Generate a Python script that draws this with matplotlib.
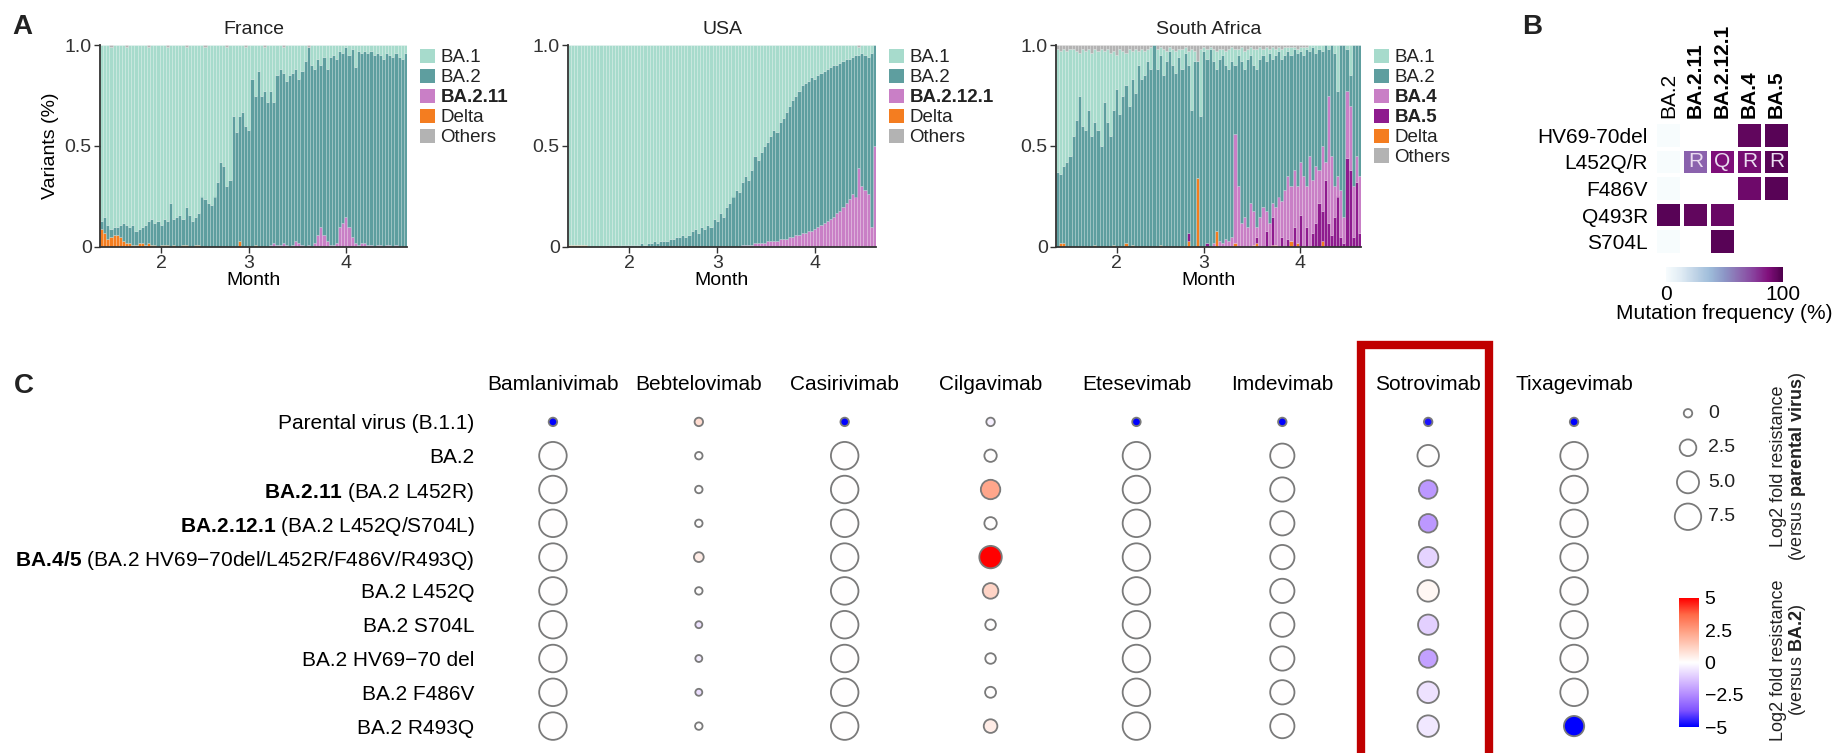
import numpy as np
import pandas as pd
import matplotlib
matplotlib.use("Agg")
import matplotlib.pyplot as plt
import matplotlib.dates as mdates
from matplotlib.patches import Patch, Rectangle
from matplotlib.colors import LinearSegmentedColormap

plt.rcParams['font.family'] = ['Liberation Sans', 'DejaVu Sans']
plt.rcParams['mathtext.fontset'] = 'custom'
plt.rcParams['mathtext.rm'] = 'Liberation Sans'
plt.rcParams['mathtext.bf'] = 'Liberation Sans:bold'
plt.rcParams['text.color'] = '#222222'

# ---------------- data: panel A (daily variant share) ----------------
days = pd.date_range("2022-01-13", "2022-04-20")

fr_ba1 = [0.87,0.85,0.89,0.90,0.90,0.90,0.89,0.88,0.88,0.90,
          0.89,0.92,0.91,0.90,0.89,0.86,0.86,0.88,0.87,0.89,
          0.86,0.86,0.78,0.86,0.85,0.84,0.86,0.79,0.84,0.87,
          0.85,0.83,0.75,0.75,0.78,0.79,0.75,0.68,0.58,0.60,
          0.69,0.67,0.35,0.43,0.35,0.33,0.39,0.42,0.17,0.25,
          0.13,0.25,0.22,0.28,0.23,0.28,0.15,0.12,0.13,0.18,
          0.15,0.14,0.12,0.17,0.13,0.08,0.00,0.10,0.12,0.07,
          0.10,0.06,0.12,0.06,0.05,0.07,0.03,0.04,0.01,0.05,
          0.02,0.11,0.03,0.04,0.03,0.04,0.03,0.05,0.04,0.05,
          0.07,0.04,0.05,0.06,0.04,0.06,0.07,0.04]
fr_ba2 = [0.04,0.08,0.07,0.04,0.04,0.04,0.06,0.09,0.09,0.08,
          0.10,0.07,0.07,0.08,0.10,0.11,0.13,0.11,0.13,0.10,
          0.13,0.12,0.22,0.13,0.15,0.16,0.13,0.19,0.16,0.13,
          0.14,0.16,0.25,0.24,0.22,0.21,0.25,0.32,0.42,0.40,
          0.30,0.33,0.65,0.57,0.62,0.67,0.60,0.58,0.83,0.74,
          0.87,0.75,0.77,0.72,0.76,0.70,0.84,0.87,0.84,0.81,
          0.85,0.85,0.85,0.81,0.86,0.92,0.98,0.90,0.86,0.87,
          0.80,0.88,0.85,0.93,0.94,0.91,0.87,0.84,0.84,0.85,
          0.93,0.87,0.96,0.94,0.95,0.95,0.96,0.95,0.95,0.94,
          0.93,0.95,0.94,0.94,0.95,0.94,0.93,0.96]
fr_ba211 = [0,0,0,0,0,0,0,0,0,0,
            0,0,0,0,0,0,0,0,0,0,
            0,0,0,0,0,0,0,0,0,0,
            0,0,0,0,0,0,0,0,0,0,
            0,0,0,0,0,0,0,0,0,0,
            0,0,0,0,0.01,0.02,0.01,0.01,0.02,0.01,
            0,0.01,0.03,0.02,0.01,0,0.01,0,0.02,0.06,
            0.10,0.06,0.03,0.01,0.01,0.02,0.10,0.12,0.15,0.10,
            0.05,0.02,0.01,0.02,0.02,0.01,0.01,0,0.01,0.01,
            0,0.01,0.01,0,0.01,0,0,0]
fr_delta = [0.09,0.07,0.04,0.05,0.06,0.06,0.05,0.03,0.02,0.02,
            0.01,0.01,0.02,0.02,0.01,0.02,0.01,0.01,0,0.01,
            0.01,0.01,0,0.01,0,0,0.01,0.01,0,0,
            0.01,0.01,0,0,0,0,0,0,0,0,
            0,0,0,0,0.03,0,0,0,0,0.01,
            0,0,0,0,0,0,0,0,0,0,
            0,0,0,0,0,0,0,0,0,0,
            0,0,0,0,0,0,0,0,0,0,
            0,0,0,0,0,0,0,0,0,0,
            0,0,0,0,0,0,0,0]
fr_others = [0,0,0,0.01,0,0,0,0,0.01,0,
             0,0,0,0,0,0.01,0,0,0,0,
             0,0.01,0,0,0,0,0,0.01,0,0,
             0,0,0,0.01,0,0,0,0,0,0,
             0.01,0,0,0,0,0,0.01,0,0,0,
             0,0,0.01,0,0,0,0,0,0.01,0,
             0,0,0,0,0,0,0.01,0,0,0,
             0,0,0,0,0,0,0,0,0,0,
             0,0,0,0,0,0,0,0,0,0,
             0,0,0,0,0,0,0,0]

usa_ba1 = [0.99,0.99,0.99,0.99,0.99,0.99,1.00,1.00,1.00,1.00,
           1.00,1.00,0.99,1.00,0.99,0.99,1.00,0.99,0.99,0.99,
           0.99,0.99,0.99,0.98,0.99,0.98,0.98,0.97,0.98,0.97,
           0.97,0.97,0.96,0.96,0.95,0.95,0.94,0.95,0.94,0.92,
           0.91,0.93,0.90,0.91,0.89,0.90,0.86,0.87,0.83,0.85,
           0.80,0.78,0.75,0.72,0.73,0.68,0.65,0.67,0.62,0.55,
           0.57,0.53,0.50,0.48,0.45,0.42,0.43,0.38,0.36,0.33,
           0.30,0.27,0.25,0.23,0.20,0.19,0.18,0.16,0.17,0.15,
           0.14,0.13,0.12,0.11,0.10,0.10,0.09,0.08,0.07,0.07,
           0.06,0.05,0.04,0.04,0.05,0.06,0.04,0.00]
usa_ba2 = [0,0,0,0,0,0,0,0,0,0,
           0,0,0.01,0,0.01,0.01,0,0.01,0.01,0.01,
           0.01,0.01,0.01,0.02,0.01,0.02,0.02,0.03,0.02,0.03,
           0.03,0.03,0.04,0.04,0.05,0.05,0.06,0.05,0.06,0.08,
           0.09,0.07,0.10,0.09,0.11,0.10,0.14,0.13,0.17,0.15,
           0.20,0.22,0.25,0.28,0.27,0.31,0.34,0.32,0.37,0.43,
           0.41,0.45,0.48,0.49,0.52,0.55,0.54,0.58,0.60,0.63,
           0.65,0.68,0.69,0.71,0.73,0.74,0.74,0.76,0.74,0.75,
           0.75,0.75,0.75,0.75,0.75,0.73,0.73,0.72,0.71,0.69,
           0.68,0.70,0.56,0.66,0.67,0.68,0.86,0.50]
usa_ba2121 = [0,0,0,0,0,0,0,0,0,0,
              0,0,0,0,0,0,0,0,0,0,
              0,0,0,0,0,0,0,0,0,0,
              0,0,0,0,0,0,0,0,0,0,
              0,0,0,0,0,0,0,0,0,0,
              0,0,0,0,0,0.01,0.01,0.01,0.01,0.02,
              0.02,0.02,0.02,0.03,0.03,0.03,0.03,0.04,0.04,0.04,
              0.05,0.05,0.06,0.06,0.07,0.07,0.08,0.08,0.09,0.10,
              0.11,0.12,0.13,0.14,0.15,0.17,0.18,0.20,0.22,0.24,
              0.26,0.25,0.39,0.30,0.28,0.26,0.10,0.50]
usa_delta = [0.01,0.01,0.01,0.01,0.01,0.01,0,0,0,0,
             0,0,0,0,0,0,0,0,0,0,
             0,0,0,0,0,0,0,0,0,0,
             0,0,0,0,0,0,0,0,0,0,
             0,0,0,0,0,0,0,0,0,0,
             0,0,0,0,0,0,0,0,0,0,
             0,0,0,0,0,0,0,0,0,0,
             0,0,0,0,0,0,0,0,0,0,
             0,0,0,0,0,0,0,0,0,0,
             0,0,0,0,0,0,0,0]
usa_others = [0,0,0,0,0,0,0,0,0,0,
              0,0,0,0,0,0,0,0,0,0,
              0,0,0,0,0,0,0,0,0,0,
              0,0,0,0,0,0,0,0,0,0,
              0,0,0,0,0,0,0,0,0,0,
              0,0,0,0,0,0,0,0,0,0,
              0,0,0,0,0,0,0,0,0,0,
              0,0,0,0,0,0,0,0,0,0,
              0,0,0,0,0,0,0,0,0,0,
              0,0,0.01,0,0,0,0,0]

sa_ba1 = [0.61,0.61,0.58,0.55,0.53,0.43,0.34,0.21,0.38,0.39,
          0.30,0.41,0.36,0.39,0.48,0.25,0.36,0.41,0.29,0.17,
          0.32,0.22,0.16,0.28,0.14,0.22,0.07,0.15,0.12,0.06,
          0.11,0.00,0.10,0.04,0.13,0.05,0.02,0.08,0.11,0.04,
          0.10,0.03,0.07,0.30,0.05,0.00,0.33,0.02,0.05,0.01,
          0.06,0.09,0.05,0.03,0.07,0.10,0.07,0.08,0.03,0.07,
          0.09,0.05,0.04,0.08,0.10,0.06,0.03,0.07,0.02,0.06,
          0.03,0.02,0.05,0.04,0.02,0.04,0.01,0.02,0.02,0.04,
          0.01,0.03,0.01,0.04,0.02,0.03,0.00,0.02,0.00,0.04,
          0.23,0.00,0.00,0.02,0.15,0.00,0.00,0.00]
sa_ba2 = [0.37,0.34,0.38,0.42,0.45,0.55,0.63,0.75,0.60,0.58,
          0.68,0.55,0.61,0.58,0.50,0.72,0.62,0.55,0.67,0.78,
          0.66,0.75,0.78,0.70,0.82,0.76,0.90,0.83,0.85,0.92,
          0.88,1.00,0.88,0.94,0.85,0.92,0.97,0.90,0.86,0.94,
          0.88,0.96,0.83,0.68,0.92,0.58,0.65,0.97,0.91,0.98,
          0.90,0.80,0.90,0.93,0.86,0.85,0.87,0.34,0.65,0.80,
          0.73,0.83,0.73,0.72,0.78,0.78,0.75,0.74,0.84,0.71,
          0.75,0.72,0.70,0.67,0.62,0.65,0.60,0.66,0.55,0.60,
          0.68,0.52,0.66,0.56,0.60,0.47,0.58,0.23,0.55,0.66,
          0.42,0.72,0.85,0.21,0.15,0.70,0.55,0.65]
sa_ba4 = [0,0,0,0,0,0,0,0,0,0,
          0,0,0,0,0,0,0,0,0,0,
          0,0,0,0,0,0,0,0,0,0,
          0,0,0,0,0,0,0,0,0,0,
          0,0,0,0,0,0,0,0,0,0,
          0.02,0,0.03,0.02,0.04,0.03,0.05,0.54,0.30,0.12,
          0.15,0.10,0.22,0.17,0.05,0.15,0.20,0.10,0.12,0.07,
          0.19,0.25,0.18,0.28,0.31,0.27,0.28,0.28,0.26,0.35,
          0.20,0.45,0.26,0.28,0.16,0.32,0.09,0.63,0.39,0.15,
          0.10,0.23,0.13,0.33,0.32,0.25,0.13,0.28]
sa_ba5 = [0,0,0,0,0,0,0,0,0,0,
          0,0,0,0,0,0,0,0,0,0,
          0,0,0,0,0,0,0,0,0,0,
          0,0,0,0,0,0,0,0,0,0,
          0,0,0.04,0,0,0,0,0,0.02,0,
          0,0,0,0,0,0,0,0,0,0,
          0,0,0,0,0.03,0,0,0.08,0,0.14,
          0,0,0.05,0,0.04,0,0.10,0,0.16,0,
          0.10,0,0.07,0.12,0.22,0.15,0.33,0.12,0.06,0.15,
          0.25,0.05,0.02,0.44,0.38,0.05,0.32,0.07]
sa_delta = [0,0.02,0.02,0,0,0,0,0,0,0,
            0,0,0.01,0,0,0,0,0,0.01,0,
            0,0,0.02,0,0.01,0,0,0,0,0,
            0,0,0,0.01,0,0,0,0,0,0,
            0,0,0.03,0,0,0.34,0,0,0,0,
            0,0.08,0,0,0,0,0,0.02,0,0,
            0,0,0,0.01,0.02,0,0,0,0,0.01,
            0.01,0,0,0,0,0.03,0,0.02,0,0,
            0,0,0,0,0,0.03,0,0,0,0,
            0,0,0,0,0,0,0,0]
sa_others = [0.02,0.03,0.02,0.03,0.02,0.02,0.03,0.04,0.02,0.03,
             0.02,0.04,0.02,0.03,0.02,0.03,0.02,0.04,0.03,0.05,
             0.02,0.03,0.04,0.02,0.03,0.02,0.03,0.02,0.03,0.02,
             0.01,0.00,0.02,0.01,0.02,0.03,0.01,0.02,0.03,0.02,
             0.02,0.01,0.03,0.02,0.03,0.08,0.02,0.01,0.02,0.01,
             0.02,0.03,0.02,0.02,0.03,0.02,0.01,0.02,0.02,0.01,
             0.03,0.02,0.01,0.02,0.02,0.01,0.02,0.01,0.02,0.01,
             0.02,0.01,0.02,0.01,0.01,0.01,0.01,0.02,0.01,0.01,
             0.01,0,0,0,0,0,0,0,0,0,
             0,0,0,0,0,0,0,0]

# ---------------- data: panel B (mutation frequency, %) ----------------
b_lineages = ["BA.2", "BA.2.11", "BA.2.12.1", "BA.4", "BA.5"]
b_mutations = ["HV69-70del", "L452Q/R", "F486V", "Q493R", "S704L"]
b_freq = [[0, np.nan, np.nan, 95, 97],
          [0, 65, 88, 90, 97],
          [0, np.nan, np.nan, 92, 97],
          [97, 95, 93, np.nan, np.nan],
          [0, np.nan, 97, np.nan, np.nan]]
b_residue = ["", "R", "Q", "R", "R"]

# ---------------- data: panel C (antibody resistance) ----------------
mabs = ["Bamlanivimab", "Bebtelovimab", "Casirivimab", "Cilgavimab",
        "Etesevimab", "Imdevimab", "Sotrovimab", "Tixagevimab"]
# (\! cancels mathtext's punctuation space after "A.")
variants = ["Parental virus (B.1.1)", "BA.2",
            r"$\bf{BA.\!2.11}$ (BA.2 L452R)",
            r"$\bf{BA.\!2.12.1}$ (BA.2 L452Q/S704L)",
            r"$\bf{BA.\!4/5}$ (BA.2 HV69−70del/L452R/F486V/R493Q)",
            "BA.2 L452Q", "BA.2 S704L", "BA.2 HV69−70 del",
            "BA.2 F486V", "BA.2 R493Q"]
# log2 fold resistance versus parental virus (bubble size)
vs_parental = [[0, 0, 0, 0, 0, 0, 0, 0],
               [8.2, -0.2, 8.2, 1.0, 8.2, 6.2, 4.7, 8.2],
               [8.2, -0.2, 8.2, 3.7, 8.2, 6.2, 3.3, 8.2],
               [8.2, -0.2, 8.2, 1.0, 8.2, 6.2, 3.3, 8.2],
               [8.2, 0.3, 8.2, 5.2, 8.2, 6.2, 4.1, 8.2],
               [8.2, -0.2, 8.2, 2.1, 8.2, 6.2, 4.7, 8.2],
               [8.2, -0.3, 8.2, 0.5, 8.2, 6.2, 4.1, 8.2],
               [8.2, -0.3, 8.2, 0.5, 8.2, 6.2, 3.3, 8.2],
               [8.2, -0.3, 8.2, 0.6, 8.2, 6.2, 4.7, 8.2],
               [8.2, -0.2, 8.2, 1.4, 8.2, 6.2, 4.7, 4.1]]
# log2 fold resistance versus BA.2 (bubble colour)
vs_ba2 = [[-8.2, 0.9, -8.2, -0.3, -8.2, -6.2, -4.7, -8.2],
          [0, 0, 0, 0, 0, 0, 0, 0],
          [0, 0, 0, 2.3, 0, 0, -2.2, 0],
          [0, 0, 0, 0, 0, 0, -2.2, 0],
          [0, 0.5, 0, 5.0, 0, 0, -0.9, 0],
          [0, 0, 0, 1.1, 0, 0, 0.2, 0],
          [0, -0.6, 0, 0, 0, 0, -1.0, 0],
          [0, -0.4, 0, 0, 0, 0, -2.0, 0],
          [0, -0.7, 0, 0, 0, 0, -0.6, 0],
          [0, 0, 0, 0.5, 0, 0, -0.5, -5.5]]
size_legend = [0, 2.5, 5.0, 7.5]

# ---------------- figure ----------------
W, H = 1833, 753
fig = plt.figure(figsize=(W / 100, H / 100), dpi=100)

def box(x0, y0, x1, y1):
    return [x0 / W, 1 - y1 / H, (x1 - x0) / W, (y1 - y0) / H]

c_ba1, c_ba2, c_pink = "#a7dbcc", "#5e9e9f", "#c97fc6"
c_ba5, c_delta, c_oth = "#8e1b8e", "#f47d20", "#b3b3b3"
fs = 14

def stacked(ax, title, layers, legend_keys, bold_keys, ylabel=False):
    bottom = np.zeros(len(days))
    for name, vals, col in layers:
        vals = np.asarray(vals, dtype=float)
        ax.bar(days, vals, bottom=bottom, width=1.0, color=col,
               edgecolor=(1, 1, 1, 0.25), linewidth=0.4)
        bottom += vals
    ax.set_xlim(pd.Timestamp("2022-01-12 12:00"), pd.Timestamp("2022-04-20 12:00"))
    ax.set_ylim(0, 1.0)
    ax.set_yticks([0, 0.5, 1.0])
    ax.set_yticklabels(["0", "0.5", "1.0"])
    ax.xaxis.set_major_locator(mdates.MonthLocator(bymonth=[2, 3, 4]))
    ax.xaxis.set_major_formatter(mdates.DateFormatter("%-m"))
    for s in ["top", "right"]:
        ax.spines[s].set_visible(False)
    for s in ["left", "bottom"]:
        ax.spines[s].set_linewidth(1.3)
        ax.spines[s].set_color("#333333")
    ax.tick_params(labelsize=fs, length=4, width=1, colors="#333333", pad=2)
    ax.set_title(title, fontsize=fs, pad=8)
    ax.set_xlabel("Month", fontsize=fs, labelpad=0)
    if ylabel:
        ax.set_ylabel("Variants (%)", fontsize=fs, labelpad=4)
    cols = {n: c for n, v, c in layers}
    handles = [Patch(facecolor=cols[k], label=k) for k in legend_keys]
    leg = ax.legend(handles=handles, loc="upper left", bbox_to_anchor=(1.03, 1.0),
                    frameon=False, fontsize=13.5, handlelength=0.8, handleheight=0.8,
                    handletextpad=0.3, labelspacing=0.12, borderaxespad=0, borderpad=0.2)
    for t in leg.get_texts():
        if t.get_text() in bold_keys:
            t.set_fontweight("bold")

ax_fr = fig.add_axes(box(100, 45, 407, 247))
stacked(ax_fr, "France",
        [("Delta", fr_delta, c_delta), ("BA.2.11", fr_ba211, c_pink),
         ("BA.2", fr_ba2, c_ba2), ("BA.1", fr_ba1, c_ba1), ("Others", fr_others, c_oth)],
        ["BA.1", "BA.2", "BA.2.11", "Delta", "Others"], ["BA.2.11"], ylabel=True)

ax_us = fig.add_axes(box(568, 45, 876, 247))
stacked(ax_us, "USA",
        [("Delta", usa_delta, c_delta), ("BA.2.12.1", usa_ba2121, c_pink),
         ("BA.2", usa_ba2, c_ba2), ("BA.1", usa_ba1, c_ba1), ("Others", usa_others, c_oth)],
        ["BA.1", "BA.2", "BA.2.12.1", "Delta", "Others"], ["BA.2.12.1"])

ax_sa = fig.add_axes(box(1056, 45, 1361, 247))
stacked(ax_sa, "South Africa",
        [("Delta", sa_delta, c_delta), ("BA.5", sa_ba5, c_ba5), ("BA.4", sa_ba4, c_pink),
         ("BA.2", sa_ba2, c_ba2), ("BA.1", sa_ba1, c_ba1), ("Others", sa_others, c_oth)],
        ["BA.1", "BA.2", "BA.4", "BA.5", "Delta", "Others"], ["BA.4", "BA.5"])

# ---------------- panel B ----------------
axb = fig.add_axes(box(1655, 122, 1790, 255))
freq = np.ma.masked_invalid(np.array(b_freq, dtype=float))
mesh = axb.pcolormesh(freq, cmap="BuPu", vmin=0, vmax=100,
                      edgecolors="white", linewidth=1.5)
axb.set_xlim(0, 5)
axb.set_ylim(5, 0)
axb.set_xticks(np.arange(5) + 0.5)
axb.set_xticklabels(b_lineages, rotation=90, fontsize=15)
axb.xaxis.tick_top()
axb.set_yticks(np.arange(5) + 0.5)
axb.set_yticklabels(b_mutations, fontsize=15)
axb.tick_params(axis="x", length=0, pad=3)
axb.tick_params(axis="y", length=0, pad=5)
for t in axb.get_xticklabels():
    if t.get_text() != "BA.2":
        t.set_fontweight("bold")
for s in axb.spines.values():
    s.set_visible(False)
for j, r in enumerate(b_residue):
    if r:
        axb.text(j + 0.5, 1.5, r, ha="center", va="center", color="#eadcf0", fontsize=15)

cax_b = fig.add_axes(box(1666, 267, 1783, 282))
cb_b = fig.colorbar(mesh, cax=cax_b, orientation="horizontal", ticks=[0, 100])
cb_b.outline.set_visible(False)
cax_b.tick_params(length=0, labelsize=15, pad=2)
cb_b.set_label("Mutation frequency (%)", fontsize=15, labelpad=0)

# ---------------- panel C ----------------
bwr = LinearSegmentedColormap.from_list(
    "bwr_lab", ["#0000FF", "#7E52FF", "#B38BFF", "#DCC4FF", "#FFFFFF",
                "#FFCFBF", "#FF9E81", "#FF6846", "#FF0000"])

def bubble_area(v):
    d_px = -0.9 + 28.9 * np.sqrt((np.asarray(v, dtype=float) + 1) / 9.5)
    return (d_px * 0.72) ** 2

axc = fig.add_axes(box(480, 405, 1647, 743))
gx, gy = np.meshgrid(np.arange(len(mabs)), np.arange(len(variants)))
sc = axc.scatter(gx.ravel(), gy.ravel(), s=bubble_area(np.ravel(vs_parental)),
                 c=np.ravel(vs_ba2), cmap=bwr, vmin=-5, vmax=5,
                 edgecolors="#7a7a7a", linewidths=1.3, zorder=3)
axc.set_xlim(-0.5, len(mabs) - 0.5)
axc.set_ylim(len(variants) - 0.5, -0.5)
axc.set_xticks(range(len(mabs)))
axc.set_xticklabels(mabs, fontsize=15)
axc.xaxis.tick_top()
axc.set_yticks(range(len(variants)))
axc.set_yticklabels(variants, fontsize=15)
axc.tick_params(axis="x", length=0, pad=8)
axc.tick_params(axis="y", length=0, pad=4)
for s in axc.spines.values():
    s.set_visible(False)

# size legend
axl = fig.add_axes(box(1670, 396, 1760, 534))
axl.scatter([0.2] * len(size_legend), range(len(size_legend)), s=bubble_area(size_legend),
            facecolor="white", edgecolors="#7a7a7a", linewidths=1.3)
for i, v in enumerate(size_legend):
    axl.text(0.42, i, "0" if v == 0 else f"{v:.1f}", va="center", ha="left", fontsize=fs)
axl.set_xlim(0, 1)
axl.set_ylim(len(size_legend) - 0.5, -0.5)
axl.axis("off")

cax_c = fig.add_axes(box(1679, 598, 1699, 727))
cb_c = fig.colorbar(sc, cax=cax_c, ticks=[-5, -2.5, 0, 2.5, 5])
cb_c.set_ticklabels(["−5", "−2.5", "0", "2.5", "5"])
cb_c.outline.set_visible(False)
cax_c.tick_params(length=0, labelsize=fs, pad=4)

fig.text(1789 / W, 1 - 466 / H, "Log2 fold resistance\n(versus $\\bf{parental\\ virus}$)",
         rotation=90, ha="center", va="center", fontsize=13, multialignment="center",
         linespacing=1.0)
fig.text(1789 / W, 1 - 660 / H, "Log2 fold resistance\n(versus $\\bf{BA.\\!2}$)",
         rotation=90, ha="center", va="center", fontsize=13, multialignment="center",
         linespacing=1.0)

# highlight box around Sotrovimab
fig.patches.append(Rectangle((1361 / W, -0.05), 128 / W, 1 - 345 / H + 0.05,
                             transform=fig.transFigure, fill=False,
                             edgecolor="#c00000", linewidth=6, zorder=5))

# panel letters
fig.text(12 / W, 1 - 27 / H, "A", fontsize=20, fontweight="bold", va="center")
fig.text(1522 / W, 1 - 27 / H, "B", fontsize=20, fontweight="bold", va="center")
fig.text(14 / W, 1 - 386 / H, "C", fontsize=20, fontweight="bold", va="center")

fig.savefig("out.png", dpi=100)
